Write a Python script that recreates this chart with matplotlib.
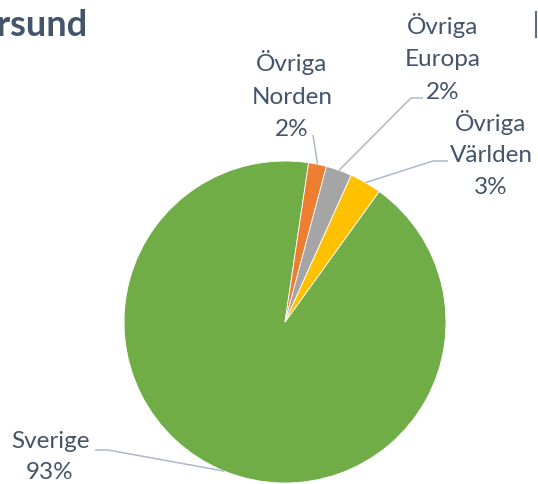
import numpy as np
import matplotlib
matplotlib.use("Agg")
import matplotlib.pyplot as plt

# Data
categories = ["Sverige", "Övriga\nNorden", "Övriga\nEuropa", "Övriga\nVärlden"]
values = [92.4, 1.8, 2.6, 3.2]
pct_labels = ["93%", "2%", "2%", "3%"]
colors = ["#70AD47", "#ED7D31", "#A5A5A5", "#FFC000"]
title = "Östersund"

W, H = 538, 484
DPI = 100
CX, CY, R = 285, 322, 161  # pie center / radius in pixels

plt.rcParams['font.family'] = ['Lato', 'DejaVu Sans']
text_color = "#44546A"
line_color = "#ADB9CA"

fig = plt.figure(figsize=(W / DPI, H / DPI), dpi=DPI)
ax = fig.add_axes([0, 0, 1, 1])

start = 90 - 35.8
wedges, _ = ax.pie(values, colors=colors, startangle=start, counterclock=False,
                   radius=R, center=(0, 0),
                   wedgeprops=dict(edgecolor="white", linewidth=0.6))
ax.set_xlim(-CX, W - CX)
ax.set_ylim(-(H - CY), CY)
ax.set_aspect('equal')
ax.axis('off')


def px(x, y):
    return x - CX, CY - y


# label centers (pixel), line spacing and leader-line anchor points (pixel)
label_pos = [(50, 457), (292, 95), (443, 58), (491, 154)]
spacing = [1.55, 1.7, 1.7, 1.62]
leaders = [[(108, 450), (95, 450)],
           [(313, 135)],
           [(411, 98), (423, 98)],
           [(433, 161), (448, 161)]]

for w, cat, pct, lp, ls, ld in zip(wedges, categories, pct_labels, label_pos,
                                   spacing, leaders):
    ang = np.deg2rad((w.theta1 + w.theta2) / 2)
    ex, ey = R * np.cos(ang), R * np.sin(ang)
    pts = [(ex, ey)] + [px(*p) for p in ld]
    xs, ys = zip(*pts)
    ax.plot(xs, ys, color=line_color, lw=1.1, solid_capstyle='butt')
    tx, ty = px(*lp)
    ax.text(tx, ty, f"{cat}\n{pct}", ha='center', va='center', fontsize=17.5,
            color=text_color, linespacing=ls)

# title (cut at left edge, as in the reference)
fig.text(88 / W, 1 - 26 / H, title, ha='right', va='center', fontsize=26,
         fontweight='bold', color=text_color)

# edge of legend box visible at right
fig.add_artist(plt.Line2D([536 / W, 536 / W], [1 - 12 / H, 1 - 37 / H],
                          color="#5A6B82", lw=1.5, transform=fig.transFigure))

fig.savefig("out.png", dpi=DPI)
